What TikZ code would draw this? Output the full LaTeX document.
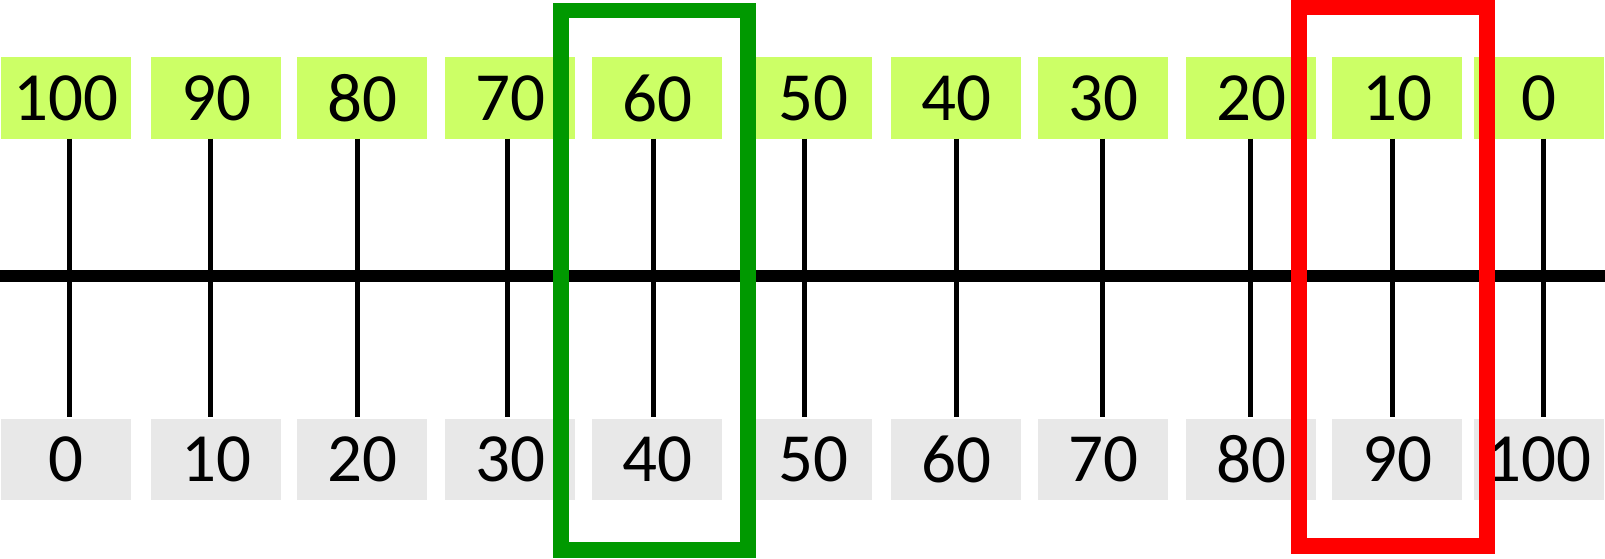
\documentclass[tikz,border=0pt]{standalone}
\usepackage{fontspec}
\setmainfont{Carlito}
\usetikzlibrary{positioning}
\definecolor{lime}{HTML}{CCFF66}
\definecolor{ltgray}{HTML}{E8E8E8}
\definecolor{dkgreen}{HTML}{009900}
\definecolor{brred}{HTML}{FF0000}

\tikzset{
  valbox/.style={inner sep=0pt, minimum width=130pt, minimum height=81pt,
    font=\fontsize{69}{82}\selectfont},
  topval/.style={valbox, fill=lime},
  botval/.style={valbox, fill=ltgray},
  tickline/.style={line width=5pt, shorten >=2pt},
  markbox/.style={line width=15.5pt}
}

\begin{document}
\begin{tikzpicture}[x=1pt, y=-1pt]
\useasboundingbox (0,0) rectangle (1605,559);

% Number line
\draw[line width=12.5pt] (0,276) -- (1605,276);

% Columns: top value (lime), bottom value (grey), tick joining them
% \bx = box centre, \dx = tick offset from box centre, \w = box width
\foreach \n/\up/\dn/\bx/\dx/\w in {
    1/100/0/66/3/130, 2/90/10/216/-6/130, 3/80/20/362/-5/130,
    4/70/30/510/-3/130, 5/60/40/657/-4/130, 6/50/50/813/-9/117,
    7/40/60/956/0/130, 8/30/70/1103/-1/130, 9/20/80/1251/-1/130,
    10/10/90/1397/-5/130, 11/0/100/1539/4/130} {
  \node[topval, minimum width=\w pt] (top\n) at (\bx,98) {\up};
  \node[botval, minimum width=\w pt] (bot\n) at (\bx,459.5) {\dn};
  \draw[tickline] ([xshift=\dx pt]top\n.south) -- ([xshift=\dx pt]bot\n.north);
}

% Highlight frames
\draw[markbox, dkgreen] (561,10.5) rectangle (748,550);
\draw[markbox, brred] (1299,7) rectangle (1487,546);

\end{tikzpicture}
\end{document}
